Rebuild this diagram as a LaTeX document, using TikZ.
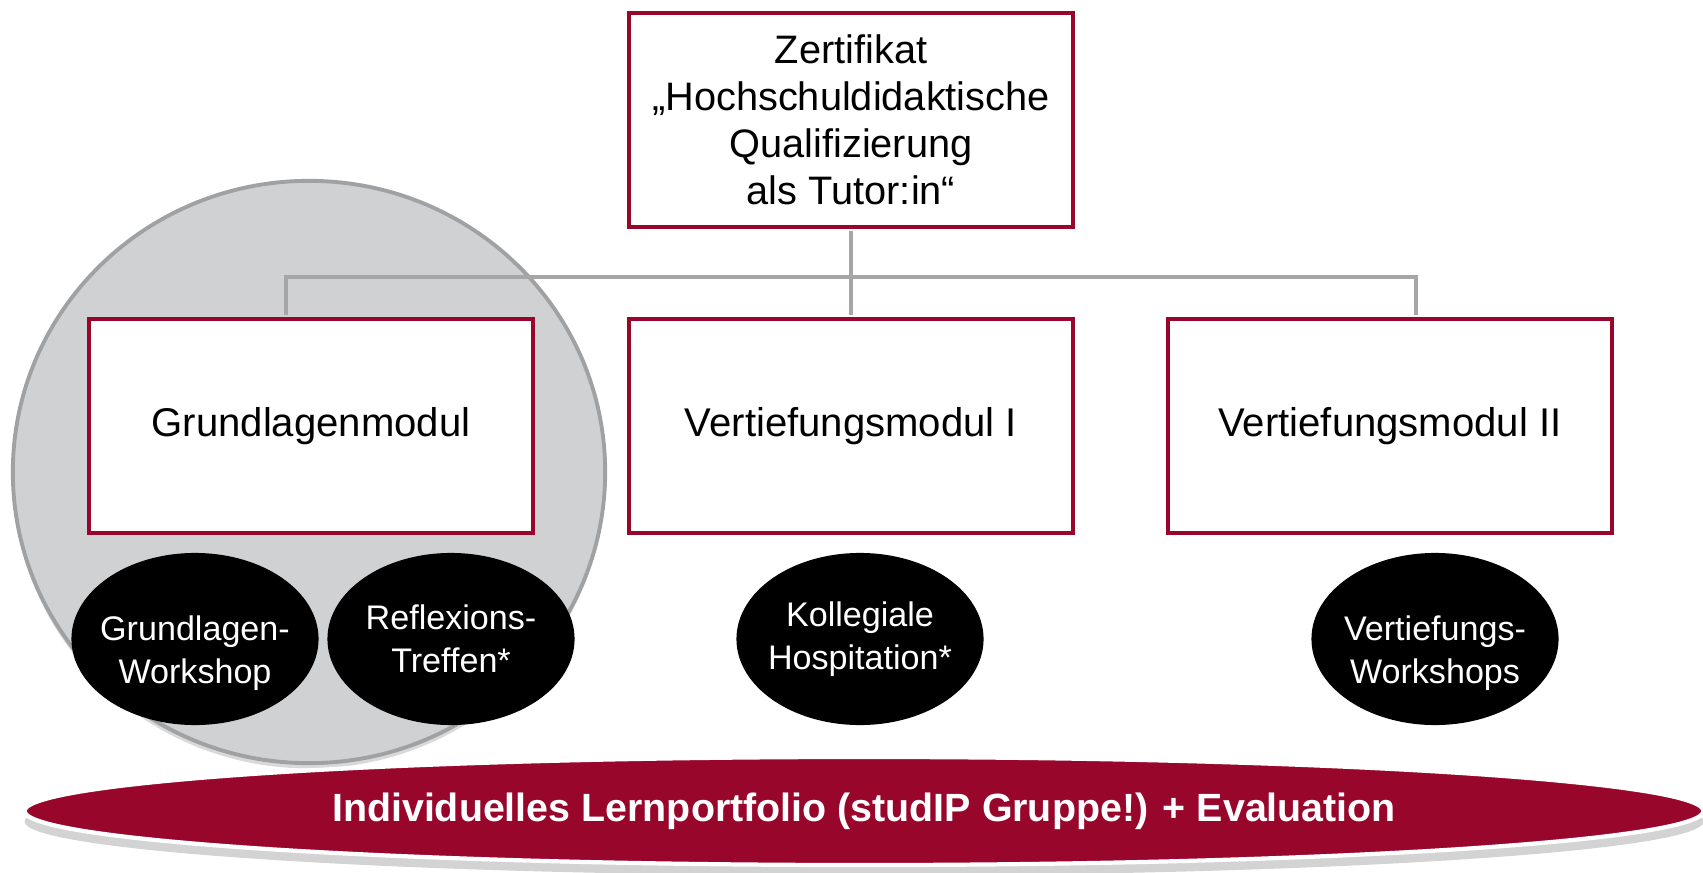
\documentclass[tikz,border=0pt]{standalone}
\usepackage{fontspec}
\setmainfont{Liberation Sans}
\usetikzlibrary{positioning, shapes.geometric, shadows}

\definecolor{unired}{RGB}{152,6,44}
\definecolor{linegray}{RGB}{166,166,166}
\definecolor{circlegray}{RGB}{208,209,211}
\definecolor{circleedge}{RGB}{160,161,163}

\tikzset{
  modbox/.style={draw=unired, line width=1.15pt, fill=white, minimum width=4.43cm,
    minimum height=2.13cm, align=center, inner sep=0pt,
    font=\fontsize{11.4}{13.4}\selectfont},
  partell/.style={ellipse, fill=black, text=white, minimum width=2.47cm,
    minimum height=1.72cm, align=center, inner sep=-12pt,
    font=\fontsize{9.7}{12.2}\selectfont},
  lowtext/.style={text height=27.2pt},
  linkline/.style={draw=linegray, line width=1.3pt, shorten <=0.6pt, shorten >=0.6pt},
}

\begin{document}
\begin{tikzpicture}[x=0.01cm, y=-0.01cm]
	\useasboundingbox (0,0) rectangle (1703,873);

	% Draw the grey circle behind the basic module
	\node (basecircle) [ellipse, fill=circlegray, draw=circleedge, line width=1.1pt,
		minimum width=5.92cm, minimum height=5.82cm,
		drop shadow={opacity=0.3, shadow xshift=0pt, shadow yshift=-1.5pt}] at (309,472) {};

	% Draw the boxes
	\node (zert) [modbox, font=\fontsize{11.3}{13.4}\selectfont] at (851,120) {Zertifikat\\
		„Hochschuldidaktische\\ Qualifizierung\\ als Tutor:in“};
	\node (grund) [modbox] at (311,426) {Grundlagenmodul};
	\node (vert1) [modbox] at (851,426) {Vertiefungsmodul I};
	\node (vert2) [modbox] at (1390,426) {Vertiefungsmodul II};

	% Draw the connectors
	\coordinate (jl) at (286,277);
	\coordinate (jr) at (1416,277);
	\draw[linkline] (zert.south) -- (vert1.north);
	\draw[linkline] (jl |- grund.north) -- (jl) -- (jr) -- (jr |- vert2.north);

	% Draw the parts of each module
	\node (gws) [partell, lowtext] at (195,639) {Grundlagen-\\Workshop};
	\node (refl) [partell] at (451,639) {Reflexions-\\Treffen*};
	\node (hosp) [partell] at (860,639) {Kollegiale\\Hospitation*};
	\node (vws) [partell, lowtext] at (1435,639) {Vertiefungs-\\Workshops};

	% Draw the portfolio band
	\node (portfolio) [ellipse, fill=unired, draw=white, line width=1.2pt,
		minimum width=16.78cm, minimum height=1.08cm, inner sep=-10pt,
		text=white, font=\fontsize{11.2}{13}\selectfont\bfseries,
		drop shadow={opacity=0.35, shadow xshift=0pt, shadow yshift=-3pt}]
		at (864,811) {Individuelles Lernportfolio (studIP Gruppe!) + Evaluation};

\end{tikzpicture}
\end{document}
